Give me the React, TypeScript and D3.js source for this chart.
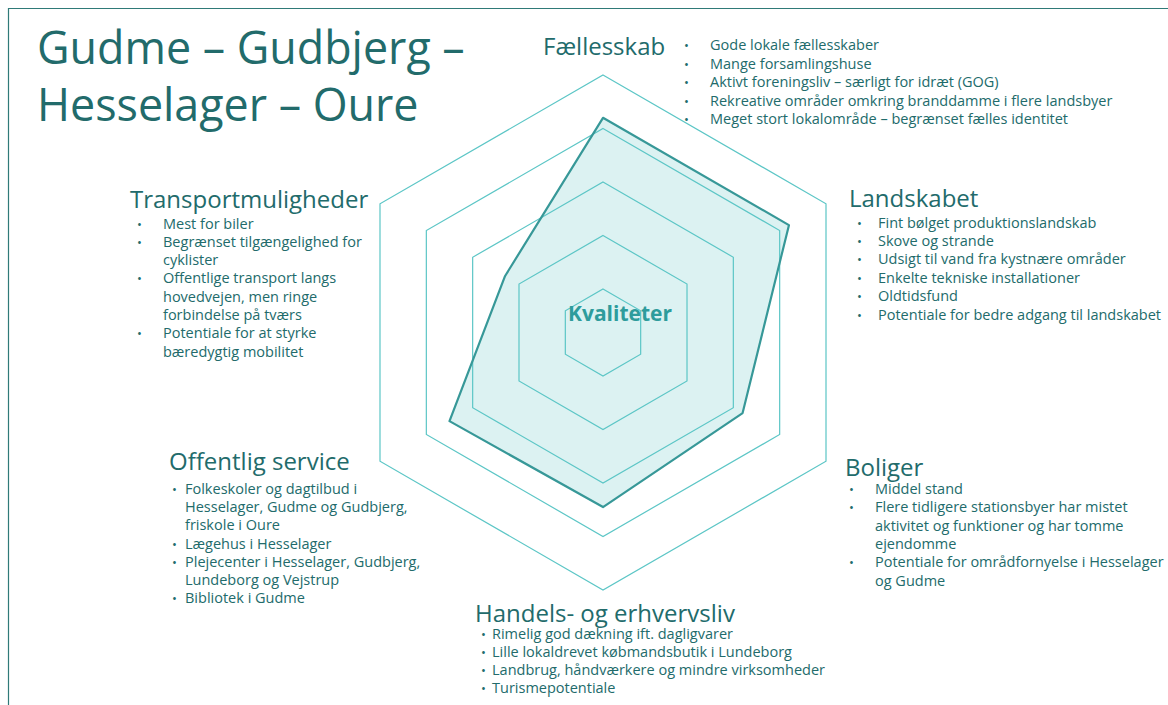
import React from "react";
import * as d3 from "d3";

// kvalitetsvurdering pr. tema (aflæst af figuren)
const axes = ["Fællesskab", "Landskabet", "Boliger", "Handels- og erhvervsliv", "Offentlig service", "Transportmuligheder"];
const values = [4.2, 4.2, 3.2, 3.45, 3.5, 2.3];
const ringLevels = [1, 2, 3, 4, 5];

const titleLines = ["Gudme – Gudbjerg –", "Hesselager – Oure"];
const centerLabel = "Kvaliteter";

// punkter pr. tema, et array pr. punkt (ombrudte linjer)
const faellesskab = [
  ["Gode lokale fællesskaber"],
  ["Mange forsamlingshuse"],
  ["Aktivt foreningsliv – særligt for idræt (GOG)"],
  ["Rekreative områder omkring branddamme i flere landsbyer"],
  ["Meget stort lokalområde – begrænset fælles identitet"],
];
const landskabet = [
  ["Fint bølget produktionslandskab"],
  ["Skove og strande"],
  ["Udsigt til vand fra kystnære områder"],
  ["Enkelte tekniske installationer"],
  ["Oldtidsfund"],
  ["Potentiale for bedre adgang til landskabet"],
];
const boliger = [
  ["Middel stand"],
  ["Flere tidligere stationsbyer har mistet", "aktivitet og funktioner og har tomme", "ejendomme"],
  ["Potentiale for områdfornyelse i Hesselager", "og Gudme"],
];
const handel = [
  ["Rimelig god dækning ift. dagligvarer"],
  ["Lille lokaldrevet købmandsbutik i Lundeborg"],
  ["Landbrug, håndværkere og mindre virksomheder"],
  ["Turismepotentiale"],
];
const service = [
  ["Folkeskoler og dagtilbud i", "Hesselager, Gudme og Gudbjerg,", "friskole i Oure"],
  ["Lægehus i Hesselager"],
  ["Plejecenter i Hesselager, Gudbjerg,", "Lundeborg og Vejstrup"],
  ["Bibliotek i Gudme"],
];
const transport = [
  ["Mest for biler"],
  ["Begrænset tilgængelighed for", "cyklister"],
  ["Offentlige transport langs", "hovedvejen, men ringe", "forbindelse på tværs"],
  ["Potentiale for at styrke", "bæredygtig mobilitet"],
];
const bulletLists = [faellesskab, landskabet, boliger, handel, service, transport];

// placering af tekstblokke: overskrift (x, baseline), punkt (x), tekst (x), første linje, linjeafstand
const blocks = [
  { tx: 543, ty: 55, bx: 684, lx: 710, ly: 50, step: 18.6 },
  { tx: 849, ty: 207, bx: 857, lx: 878, ly: 227.5, step: 18.4 },
  { tx: 845, ty: 476, bx: 849, lx: 875, ly: 494, step: 18.3 },
  { tx: 475, ty: 622, bx: 481, lx: 492, ly: 638.5, step: 18.2 },
  { tx: 169, ty: 470, bx: 172, lx: 185, ly: 494, step: 18.2 },
  { tx: 130, ty: 208, bx: 137, lx: 163, ly: 228.5, step: 18.3 },
];

const W = 1168;
const H = 705;
const cx = 603;
const cy = 332.5;
const teal = "#226b6b";
const font = "'Open Sans', 'Noto Sans', sans-serif";

export default function App() {
  const r = d3.scaleLinear().domain([1, 5]).range([43.5, 257.5]);
  const angle = (i: number) => (i * 2 * Math.PI) / axes.length;

  const radar = d3
    .lineRadial<number>()
    .angle((_, i) => angle(i))
    .radius((d) => r(d))
    .curve(d3.curveLinearClosed);

  const ring = (lvl: number) =>
    d3
      .lineRadial<string>()
      .angle((_, i) => angle(i))
      .radius(() => r(lvl))
      .curve(d3.curveLinearClosed)(axes);

  return (
    <svg width={W} height={H} style={{ position: "absolute", left: 0, top: 0, background: "#fff" }} fontFamily={font}>
      <path d={`M8.5,${H} V8.5 H${W}`} fill="none" stroke="#2f7a78" strokeWidth={1.2} />

      {titleLines.map((t, i) => (
        <text key={t} x={37} y={64 + i * 57} fontSize={44.8} fill={teal}>
          {t}
        </text>
      ))}

      <g transform={`translate(${cx},${cy})`}>
        <path d={radar(values) ?? ""} fill="#dcf2f2" stroke="none" />
        {ringLevels.map((l) => (
          <path key={l} d={ring(l) ?? ""} fill="none" stroke="#5cc6c6" strokeWidth={1.2} />
        ))}
        <path d={radar(values) ?? ""} fill="none" stroke="#379898" strokeWidth={2.2} strokeLinejoin="round" />
      </g>

      <text x={620} y={321} textAnchor="middle" fontSize={21} fontWeight="bold" fill="#2e9c9c">
        {centerLabel}
      </text>

      {axes.map((name, k) => {
        const b = blocks[k];
        let line = 0;
        return (
          <g key={name}>
            <text x={b.tx} y={b.ty} fontSize={24} fill={teal}>
              {name}
            </text>
            {bulletLists[k].map((item, j) => {
              const start = line;
              line += item.length;
              return (
                <g key={j}>
                  <text x={b.bx} y={b.ly + start * b.step} fontSize={13} fill={teal}>
                    •
                  </text>
                  {item.map((s, m) => (
                    <text key={m} x={b.lx} y={b.ly + (start + m) * b.step} fontSize={14.5} fill={teal}>
                      {s}
                    </text>
                  ))}
                </g>
              );
            })}
          </g>
        );
      })}
    </svg>
  );
}
